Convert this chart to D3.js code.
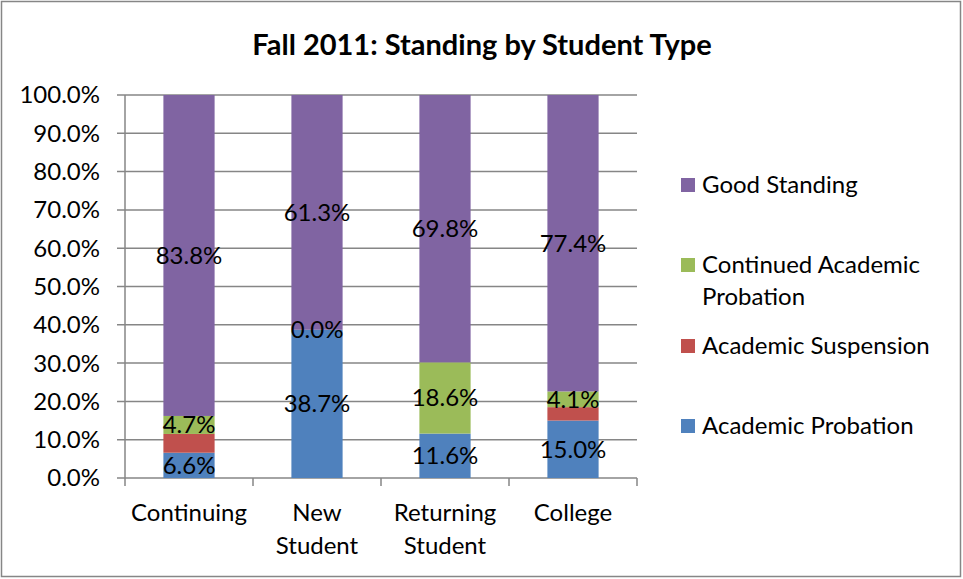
<html lang="en">
  <head>
    <title>Fall 2011 Standing</title>
    <script src="https://d3js.org/d3.v7.min.js"></script>
    <style>
    body { margin: 0; background: white; }
    svg text { font-family: Lato, "Open Sans", sans-serif; fill: black; }
    </style>
  </head>
  <body>
    <svg class="chart" width="963" height="579"></svg>
    <script>
      var categories = [["Continuing"], ["New", "Student"], ["Returning", "Student"], ["College"]];
      var seriesNames = ["Academic Probation", "Academic Suspension", "Continued Academic Probation", "Good Standing"];
      var probation = [6.6, 38.7, 11.6, 15.0];
      var suspension = [4.9, 0.0, 0.0, 3.5];
      var continued = [4.7, 0.0, 18.6, 4.1];
      var good = [83.8, 61.3, 69.8, 77.4];
      var yTicks = [0, 10, 20, 30, 40, 50, 60, 70, 80, 90, 100];
      var colors = ["#4F81BD", "#C0504D", "#9BBB59", "#8064A2"];
      var showLabel = [true, false, true, true];

      var svg = d3.select(".chart");
      svg.append("rect").attr("x", 1.5).attr("y", 1.5).attr("width", 959).attr("height", 575)
        .attr("fill", "white").attr("stroke", "#868686").attr("stroke-width", 1.5);

      svg.append("text").attr("x", 482).attr("y", 55).attr("text-anchor", "middle")
        .style("font-size", "29px").style("font-weight", "bold")
        .text("Fall 2011: Standing by Student Type");

      var x0 = 125, x1 = 637, yTop = 95, yBot = 478;
      var x = d3.scaleBand().domain(d3.range(categories.length)).range([x0, x1]).paddingInner(0.6).paddingOuter(0.3);
      var y = d3.scaleLinear().domain([0, 100]).range([yBot, yTop]);

      var g = svg.append("g");
      // gridlines with small tick stubs to the left
      g.selectAll("line.grid").data(yTicks).enter().append("line")
        .attr("x1", x0 - 8).attr("x2", x1)
        .attr("y1", function(d){ return y(d); }).attr("y2", function(d){ return y(d); })
        .attr("stroke", "#868686").attr("stroke-width", 1.5);
      g.append("line").attr("x1", x0).attr("x2", x0).attr("y1", yTop).attr("y2", yBot)
        .attr("stroke", "#868686").attr("stroke-width", 1.5);
      g.selectAll("line.ctick").data(d3.range(categories.length + 1)).enter().append("line")
        .attr("x1", function(i){ return x0 + i * (x1 - x0) / categories.length; })
        .attr("x2", function(i){ return x0 + i * (x1 - x0) / categories.length; })
        .attr("y1", yBot).attr("y2", yBot + 8)
        .attr("stroke", "#868686").attr("stroke-width", 1.5);

      g.selectAll("text.ytick").data(yTicks).enter().append("text")
        .attr("x", 100).attr("y", function(d){ return y(d); }).attr("dy", "0.35em")
        .attr("text-anchor", "end").style("font-size", "24px")
        .text(function(d){ return d.toFixed(1) + "%"; });

      var rows = categories.map(function(c, i){
        return { i: i, ap: probation[i], as: suspension[i], cap: continued[i], gs: good[i] };
      });
      var stack = d3.stack().keys(["ap", "as", "cap", "gs"]);
      var layers = stack(rows);

      layers.forEach(function(layer, k){
        g.selectAll("rect.s" + k).data(layer).enter().append("rect")
          .attr("x", function(d){ return x(d.data.i); })
          .attr("width", x.bandwidth())
          .attr("y", function(d){ return y(d[1]); })
          .attr("height", function(d){ return y(d[0]) - y(d[1]); })
          .attr("fill", colors[k]);
      });
      layers.forEach(function(layer, k){
        if (!showLabel[k]) return;
        g.selectAll("text.l" + k).data(layer).enter().append("text")
          .attr("x", function(d){ return x(d.data.i) + x.bandwidth() / 2; })
          .attr("y", function(d){ return y((d[0] + d[1]) / 2); })
          .attr("dy", "0.35em").attr("text-anchor", "middle").style("font-size", "24px")
          .text(function(d){ return (d[1] - d[0]).toFixed(1) + "%"; });
      });

      categories.forEach(function(lines, i){
        var t = g.append("text").attr("x", x(i) + x.bandwidth() / 2).attr("y", 513)
          .attr("text-anchor", "middle").style("font-size", "24px");
        lines.forEach(function(s, j){
          t.append("tspan").attr("x", x(i) + x.bandwidth() / 2).attr("dy", j ? 33 : "0.35em").text(s);
        });
      });

      var legend = [
        { k: 3, lines: ["Good Standing"], y: 185 },
        { k: 2, lines: ["Continued Academic", "Probation"], y: 265 },
        { k: 1, lines: ["Academic Suspension"], y: 346 },
        { k: 0, lines: ["Academic Probation"], y: 426 }
      ];
      legend.forEach(function(l){
        g.append("rect").attr("x", 681).attr("y", l.y - 7).attr("width", 14).attr("height", 14)
          .attr("fill", colors[l.k]);
        var t = g.append("text").attr("x", 702).attr("y", l.y).style("font-size", "24px");
        l.lines.forEach(function(s, j){
          t.append("tspan").attr("x", 702).attr("dy", j ? 32 : "0.35em").text(s);
        });
      });
    </script>
  </body>
</html>
